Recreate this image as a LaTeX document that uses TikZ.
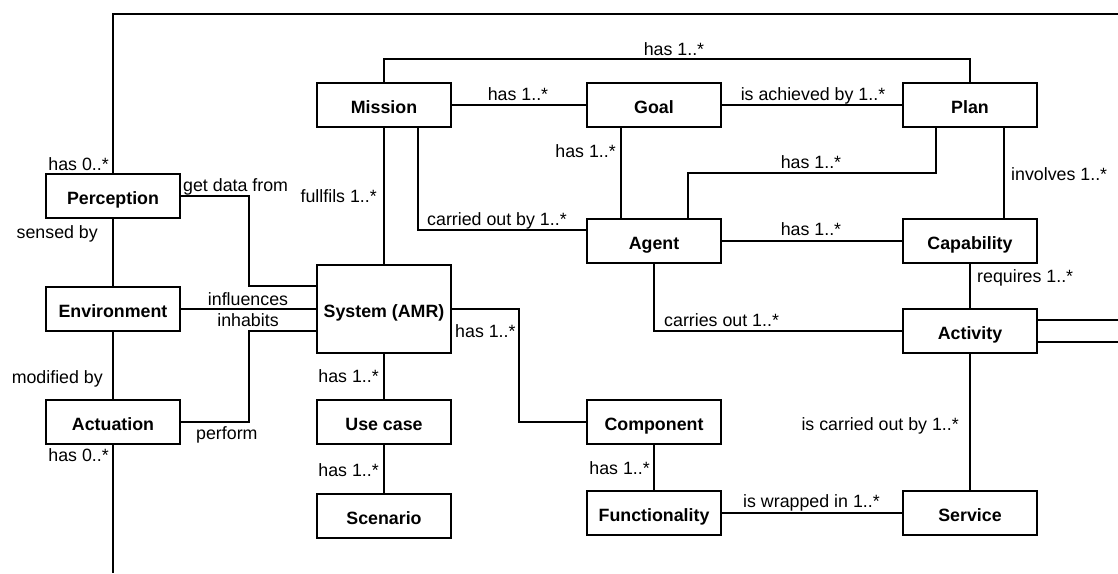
\documentclass[tikz,border=0pt]{standalone}
\usepackage{fontspec}
\setmainfont{Liberation Sans}
\usetikzlibrary{calc}
\begin{document}
\begin{tikzpicture}[x=1pt,y=-1pt,
  cls/.style={draw, line width=1.9pt, minimum width=134pt, minimum height=44pt,
    inner sep=0pt, text height=16pt, text depth=0pt,
    font=\fontsize{17.8}{20}\selectfont\bfseries},
  lbl/.style={inner sep=0pt, font=\fontsize{17.8}{20}\selectfont},
  link/.style={line width=1.9pt}]
\useasboundingbox (0,0) rectangle (1118,573);

% classes
\node[cls] (per)   at (113,196) {Perception};
\node[cls] (env)   at (113,309) {Environment};
\node[cls] (actu)  at (113,422) {Actuation};
\node[cls] (mis)   at (384,105) {Mission};
\node[cls] (goal)  at (654,105) {Goal};
\node[cls] (plan)  at (970,105) {Plan};
\node[cls] (agent) at (654,241) {Agent};
\node[cls] (cap)   at (970,241) {Capability};
\node[cls, minimum height=88pt] (sys) at (384,309) {System (AMR)};
\node[cls] (activ) at (970,331) {Activity};
\node[cls] (use)   at (384,422) {Use case};
\node[cls] (comp)  at (654,422) {Component};
\node[cls] (scen)  at (384,516) {Scenario};
\node[cls] (func)  at (654,513) {Functionality};
\node[cls] (serv)  at (970,513) {Service};

% free ends leaving the drawing area
\coordinate (topR)  at (1118,14);
\coordinate (botL)  at (113,573);
\coordinate (actR1) at (1118,320);
\coordinate (actR2) at (1118,342);

% associations
\draw[link] (per.north) |- (topR);
\draw[link] (actu.south) -- (botL);
\draw[link] (per.south) -- (env.north);
\draw[link] (env.south) -- (actu.north);
\draw[link] (per.east) -| ($(sys.west)+(-67,-23)$) -- ($(sys.west)+(0,-23)$);
\draw[link] (env.east) -- (sys.west);
\draw[link] (actu.east) -| ($(sys.west)+(-67,22)$) -- ($(sys.west)+(0,22)$);
\draw[link] (mis.south) -- (sys.north);
\draw[link] ($(mis.south)+(34,0)$) |- ($(agent.west)+(0,-11)$);
\draw[link] (mis.east) -- (goal.west);
\draw[link] (goal.east) -- (plan.west);
\draw[link] (mis.north) -- ++(0,-23) -| (plan.north);
\draw[link] ($(goal.south)+(-33,0)$) -- ($(agent.north)+(-33,0)$);
\draw[link] ($(plan.south)+(-34,0)$) -- ++(0,45) -| ($(agent.north)+(34,0)$);
\draw[link] ($(plan.south)+(34,0)$) -- ($(cap.north)+(34,0)$);
\draw[link] (agent.east) -- (cap.west);
\draw[link] (cap.south) -- (activ.north);
\draw[link] (agent.south) |- (activ.west);
\draw[link] (activ.east |- actR1) -- (actR1);
\draw[link] (activ.east |- actR2) -- (actR2);
\draw[link] (activ.south) -- (serv.north);
\draw[link] (sys.east) -| ($(comp.west)+(-67,0)$) -- (comp.west);
\draw[link] (sys.south) -- (use.north);
\draw[link] (use.south) -- (scen.north);
\draw[link] (comp.south) -- (func.north);
\draw[link] (func.east) -- (serv.west);

% role labels
\node[lbl, anchor=base]      (lMP)  at (674,55)  {has 1..*};
\node[lbl, anchor=base]      (lMG)  at (518,100) {has 1..*};
\node[lbl, anchor=base]      (lGP)  at (813,100) {is achieved by 1..*};
\node[lbl, anchor=base east] (lGA)  at (616,157) {has 1..*};
\node[lbl, anchor=base]      (lPA)  at (811,168) {has 1..*};
\node[lbl, anchor=base west] (lPC)  at (1011,180) {involves 1..*};
\node[lbl, anchor=base]      (lAC)  at (811,235) {has 1..*};
\node[lbl, anchor=base west] (lMA)  at (427,225) {carried out by 1..*};
\node[lbl, anchor=base east] (lMS)  at (377,202) {fullfils 1..*};
\node[lbl, anchor=base west] (lPS)  at (183,191) {get data from};
\node[lbl, anchor=base east] (lTop) at (109,170) {has 0..*};
\node[lbl, anchor=base east] (lPE)  at (98,238)  {sensed by};
\node[lbl, anchor=base]      (lES1) at (248,305) {influences};
\node[lbl, anchor=base]      (lES2) at (248,326) {inhabits};
\node[lbl, anchor=base east] (lEA)  at (103,383) {modified by};
\node[lbl, anchor=base west] (lAS)  at (196,439) {perform};
\node[lbl, anchor=base east] (lBot) at (109,461) {has 0..*};
\node[lbl, anchor=base east] (lSU)  at (379,382) {has 1..*};
\node[lbl, anchor=base east] (lUS)  at (379,476) {has 1..*};
\node[lbl, anchor=base west] (lSC)  at (455,337) {has 1..*};
\node[lbl, anchor=base east] (lCF)  at (650,474) {has 1..*};
\node[lbl, anchor=base west] (lCA)  at (977,282) {requires 1..*};
\node[lbl, anchor=base west] (lAA)  at (664,326) {carries out 1..*};
\node[lbl, anchor=base east] (lAS2) at (959,430) {is carried out by 1..*};
\node[lbl, anchor=base west] (lFS)  at (743,507) {is wrapped in 1..*};
\end{tikzpicture}
\end{document}
